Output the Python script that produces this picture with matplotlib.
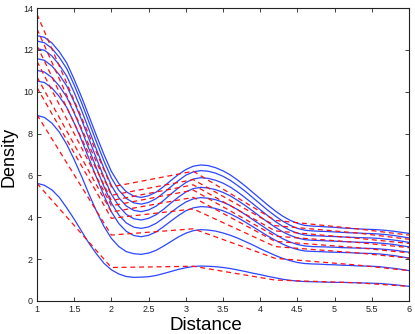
import matplotlib
matplotlib.use("Agg")
import matplotlib.pyplot as plt

# x positions at which the smooth (blue) density curves were read
x_smooth = [1.0, 1.1, 1.2, 1.3, 1.4, 1.5, 1.6, 1.7, 1.8, 1.9, 2.0, 2.1, 2.2, 2.3, 2.4,
            2.5, 2.6, 2.7, 2.8, 2.9, 3.0, 3.1, 3.2,
            3.3, 3.4, 3.5, 3.6, 3.7, 3.8, 3.9, 4.0, 4.1, 4.2, 4.3, 4.4, 4.5, 4.6, 4.7,
            4.8, 4.9, 5.0, 5.1, 5.2, 5.3, 5.4, 5.5, 5.6, 5.7, 5.8, 5.9, 6.0]

blue1 = [5.62, 5.53, 5.31, 4.95, 4.45, 3.91, 3.33, 2.75, 2.25, 1.80, 1.49, 1.29, 1.17, 1.13, 1.14,
         1.16, 1.22, 1.31, 1.41, 1.51, 1.59, 1.65, 1.67,
         1.66, 1.64, 1.60, 1.55, 1.48, 1.41, 1.33, 1.26, 1.18, 1.11, 1.04, 0.99, 0.95, 0.93, 0.92,
         0.91, 0.90, 0.89, 0.89, 0.88, 0.87, 0.86, 0.85, 0.84, 0.81, 0.78, 0.74, 0.70]
blue2 = [8.87, 8.77, 8.50, 8.07, 7.48, 6.75, 5.95, 5.09, 4.29, 3.56, 2.99, 2.60, 2.36, 2.26, 2.23,
         2.29, 2.42, 2.62, 2.84, 3.06, 3.24, 3.36, 3.41,
         3.39, 3.34, 3.25, 3.14, 3.00, 2.84, 2.68, 2.50, 2.34, 2.18, 2.04, 1.93, 1.84, 1.79, 1.77,
         1.76, 1.74, 1.73, 1.71, 1.70, 1.68, 1.67, 1.66, 1.64, 1.60, 1.56, 1.51, 1.45]
blue3 = [10.51, 10.44, 10.18, 9.77, 9.25, 8.50, 7.68, 6.79, 5.90, 5.04, 4.26, 3.70, 3.33, 3.13, 3.07,
         3.14, 3.30, 3.55, 3.82, 4.08, 4.31, 4.45, 4.51,
         4.49, 4.42, 4.31, 4.16, 3.98, 3.77, 3.55, 3.33, 3.11, 2.91, 2.72, 2.57, 2.46, 2.39, 2.37,
         2.36, 2.34, 2.33, 2.32, 2.31, 2.29, 2.28, 2.27, 2.25, 2.21, 2.17, 2.11, 2.05]
blue4 = [11.02, 10.94, 10.68, 10.27, 9.74, 8.98, 8.15, 7.25, 6.34, 5.47, 4.68, 4.11, 3.73, 3.53, 3.47,
         3.54, 3.71, 3.96, 4.23, 4.50, 4.73, 4.88, 4.94,
         4.91, 4.84, 4.72, 4.56, 4.36, 4.13, 3.89, 3.65, 3.41, 3.19, 2.98, 2.82, 2.70, 2.63, 2.60,
         2.59, 2.58, 2.57, 2.55, 2.54, 2.53, 2.52, 2.51, 2.49, 2.46, 2.43, 2.38, 2.33]
blue5 = [11.58, 11.50, 11.23, 10.81, 10.27, 9.50, 8.65, 7.73, 6.80, 5.91, 5.10, 4.53, 4.14, 3.93, 3.87,
         3.95, 4.12, 4.38, 4.68, 4.96, 5.21, 5.37, 5.43,
         5.40, 5.32, 5.19, 5.02, 4.80, 4.56, 4.30, 4.03, 3.77, 3.53, 3.31, 3.14, 3.01, 2.93, 2.90,
         2.89, 2.87, 2.86, 2.84, 2.83, 2.81, 2.80, 2.79, 2.77, 2.74, 2.70, 2.64, 2.59]
blue6 = [12.06, 11.98, 11.71, 11.28, 10.74, 9.96, 9.10, 8.17, 7.23, 6.33, 5.52, 4.93, 4.54, 4.33, 4.27,
         4.35, 4.53, 4.80, 5.11, 5.40, 5.66, 5.83, 5.89,
         5.86, 5.77, 5.63, 5.44, 5.20, 4.93, 4.65, 4.36, 4.08, 3.81, 3.57, 3.38, 3.24, 3.15, 3.12,
         3.11, 3.09, 3.08, 3.06, 3.05, 3.03, 3.02, 3.01, 2.99, 2.95, 2.91, 2.86, 2.80]
blue7 = [12.42, 12.34, 12.07, 11.64, 11.10, 10.32, 9.46, 8.53, 7.59, 6.69, 5.88, 5.29, 4.90, 4.69, 4.63,
         4.71, 4.89, 5.16, 5.46, 5.75, 6.01, 6.17, 6.23,
         6.20, 6.11, 5.96, 5.76, 5.51, 5.24, 4.94, 4.64, 4.34, 4.07, 3.82, 3.62, 3.47, 3.38, 3.35,
         3.33, 3.32, 3.30, 3.28, 3.26, 3.25, 3.23, 3.22, 3.20, 3.17, 3.13, 3.07, 3.02]
blue8 = [12.68, 12.60, 12.33, 11.91, 11.37, 10.59, 9.74, 8.82, 7.89, 7.00, 6.19, 5.61, 5.22, 5.01, 4.95,
         5.03, 5.20, 5.46, 5.76, 6.04, 6.28, 6.44, 6.50,
         6.47, 6.37, 6.22, 6.02, 5.77, 5.49, 5.19, 4.89, 4.59, 4.31, 4.06, 3.86, 3.71, 3.61, 3.58,
         3.56, 3.54, 3.52, 3.49, 3.47, 3.45, 3.43, 3.42, 3.40, 3.37, 3.33, 3.28, 3.23]

# knots of the piecewise-linear (red dashed) curves
x_knots = [1.0, 2.0, 3.1, 4.2, 5.3, 6.0]
red1 = [5.62, 1.60, 1.66, 1.00, 0.87, 0.70]
red2 = [8.90, 3.15, 3.45, 2.04, 1.72, 1.45]
red3 = [10.20, 3.95, 4.40, 2.60, 2.30, 2.05]
red4 = [10.70, 4.25, 4.95, 2.85, 2.55, 2.30]
red5 = [11.45, 4.55, 5.30, 3.10, 2.80, 2.55]
red6 = [12.20, 4.80, 5.55, 3.35, 3.00, 2.75]
red7 = [13.00, 5.05, 5.80, 3.60, 3.25, 2.95]
red8 = [13.70, 5.45, 6.20, 3.85, 3.45, 3.15]

blues = [blue1, blue2, blue3, blue4, blue5, blue6, blue7, blue8]
reds = [red1, red2, red3, red4, red5, red6, red7, red8]

x_ticks = [1, 1.5, 2, 2.5, 3, 3.5, 4, 4.5, 5, 5.5, 6]
x_ticklabels = ["1", "1.5", "2", "2.5", "3", "3.5", "4", "4.5", "5", "5.5", "6"]
y_ticks = [0, 2, 4, 6, 8, 10, 12, 14]
y_ticklabels = ["0", "2", "4", "6", "8", "10", "12", "14"]

plt.rcParams['font.family'] = ['Liberation Sans', 'DejaVu Sans']

fig = plt.figure(figsize=(4.15, 3.34), dpi=100)
ax = fig.add_axes([37/415, 33/334, 372/415, 293/334])

for b in blues:
    ax.plot(x_smooth, b, color='#2b46ff', lw=0.9)
for r in reds:
    ax.plot(x_knots, r, color='#ff1010', lw=0.9, ls=(0, (4, 3)))

ax.set_xlim(1, 6)
ax.set_ylim(0, 14)
ax.set_xticks(x_ticks)
ax.set_xticklabels(x_ticklabels)
ax.set_yticks(y_ticks)
ax.set_yticklabels(y_ticklabels)
ax.tick_params(direction='in', length=3, width=0.6, labelsize=6.5, colors='#222222',
               top=True, right=True, pad=3)
for s in ax.spines.values():
    s.set_linewidth(0.8)
    s.set_color('#222222')

ax.set_xlabel("Distance", fontsize=13.5)
ax.set_ylabel("Density", fontsize=13)
ax.xaxis.set_label_coords(0.455, -0.055)
ax.yaxis.set_label_coords(-0.052, 0.49)

fig.savefig("out.png", dpi=100)
